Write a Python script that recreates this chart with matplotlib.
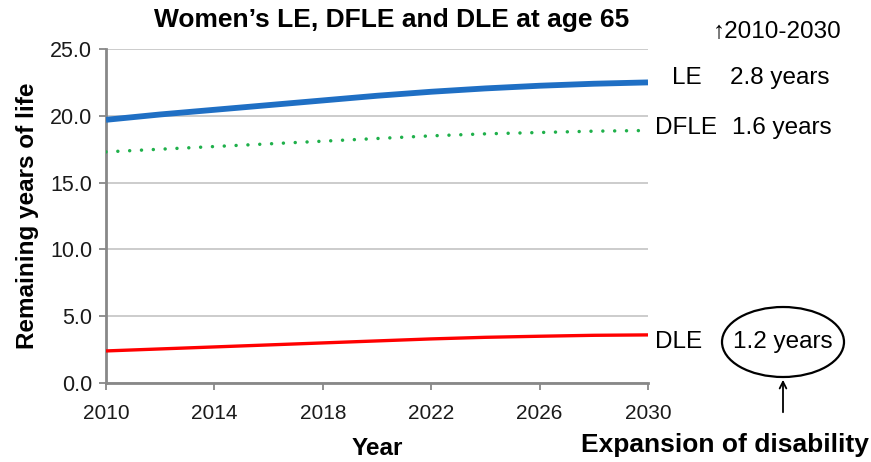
import matplotlib
matplotlib.use("Agg")
import matplotlib.pyplot as plt
from matplotlib.patches import Ellipse, FancyArrowPatch

plt.rcParams['font.family'] = ['Liberation Sans', 'DejaVu Sans']

years = [2010, 2012, 2014, 2016, 2018, 2020, 2022, 2024, 2026, 2028, 2030]
le = [19.7, 20.1, 20.45, 20.8, 21.15, 21.5, 21.8, 22.05, 22.25, 22.4, 22.5]
dfle = [17.3, 17.5, 17.7, 17.9, 18.1, 18.3, 18.5, 18.65, 18.75, 18.85, 18.9]
dle = [2.4, 2.55, 2.7, 2.85, 3.0, 3.15, 3.3, 3.42, 3.5, 3.57, 3.6]

series_names = ['LE', 'DFLE', 'DLE']
gains = ['2.8 years', '1.6 years', '1.2 years']
yticks = [0, 5, 10, 15, 20, 25]
xticks = [2010, 2014, 2018, 2022, 2026, 2030]

W, H = 871, 462
fig = plt.figure(figsize=(W/100, H/100), dpi=100)
ax = fig.add_axes([106/W, 1-383/H, (648-106)/W, (383-49)/H])

ax.plot(years, le, color='#1f6fc4', lw=4.2, solid_capstyle='butt', zorder=3)
ax.plot(years, dfle, color='#1fb04a', lw=2.5, linestyle=(0, (0.01, 3.4)), dash_capstyle='round', zorder=3)
ax.plot(years, dle, color='#ff0000', lw=2.4, solid_capstyle='butt', zorder=3)

ax.set_xlim(2010, 2030)
ax.set_ylim(0, 25)
ax.set_yticks(yticks)
ax.set_yticklabels([f'{v:.1f}' for v in yticks])
ax.set_xticks(xticks)
ax.set_xticklabels([str(v) for v in xticks])
ax.grid(axis='y', color='#c8c8c8', lw=1.3)
ax.set_axisbelow(True)
for s in ['top', 'right']:
    ax.spines[s].set_visible(False)
for s in ['left', 'bottom']:
    ax.spines[s].set_color('#888888')
    ax.spines[s].set_linewidth(2)
ax.tick_params(axis='both', colors='#888888', labelcolor='#1a1a1a', length=5, width=1.3)
ax.tick_params(axis='x', labelsize=15, pad=10)
ax.tick_params(axis='y', labelsize=15.5, pad=5)

ax.set_ylabel('Remaining years of life', fontsize=17.5, fontweight='bold', labelpad=8)
ax.set_xlabel('Year', fontsize=17.5, fontweight='bold', labelpad=10)
fig.text(392/W, 1-20/H, "Women\u2019s LE, DFLE and DLE at age 65", fontsize=19,
         fontweight='bold', ha='center', va='center')

def ft(x, y, s, **kw):
    fig.text(x/W, 1-y/H, s, va='center', **kw)

ft(713, 32, '\u21912010-2030', fontsize=17.5, ha='left')
ft(672, 78, series_names[0], fontsize=17.5, ha='left')
ft(730, 78, gains[0], fontsize=17.5, ha='left')
ft(655, 128, series_names[1], fontsize=17.5, ha='left')
ft(732, 128, gains[1], fontsize=17.5, ha='left')
ft(655, 342, series_names[2], fontsize=17.5, ha='left')
ft(783, 342, gains[2], fontsize=17.5, ha='center')

ell = Ellipse((783/W, 1-342/H), 122/W, 70/H, transform=fig.transFigure,
              fill=False, edgecolor='black', lw=1.6)
fig.add_artist(ell)
arr = FancyArrowPatch((783/W, 1-415/H), (783/W, 1-377/H), transform=fig.transFigure,
                      arrowstyle='->', mutation_scale=12, color='black', lw=1.3)
fig.add_artist(arr)
ft(725, 445, 'Expansion of disability', fontsize=19, fontweight='bold', ha='center')

fig.savefig('out.png', dpi=100)
